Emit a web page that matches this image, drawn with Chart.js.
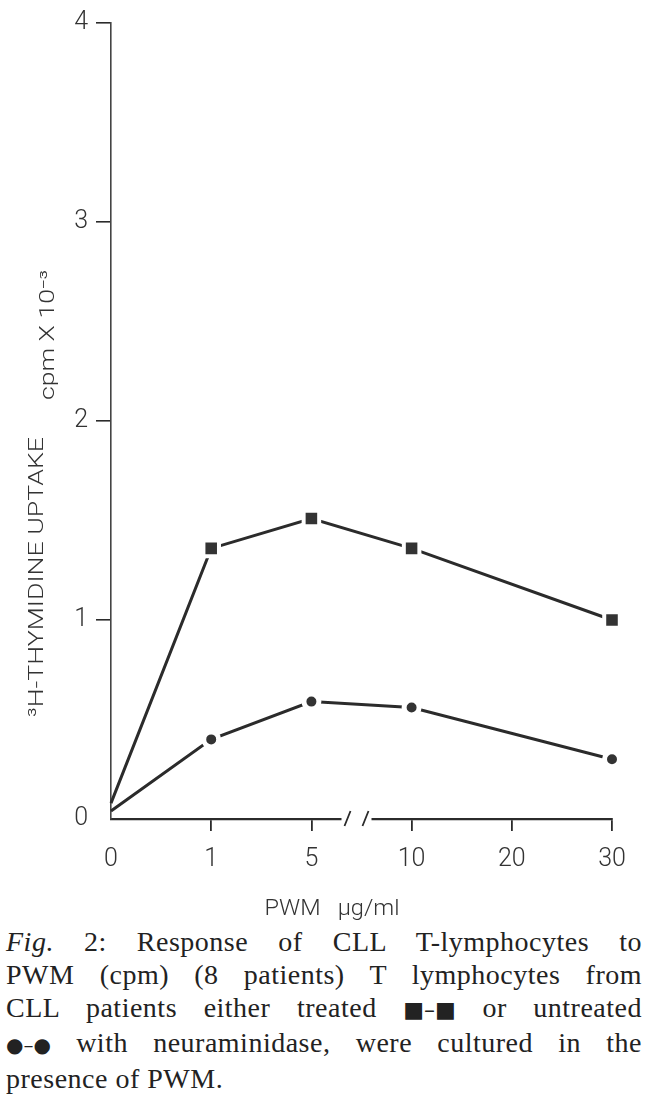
<!DOCTYPE html>
<html>
<head>
<meta charset="utf-8">
<script src="https://cdn.jsdelivr.net/npm/chart.js@4.4.1/dist/chart.umd.min.js"></script>
<style>
  body { margin: 0; background: #fff; width: 650px; height: 1101px; overflow: hidden; }
  #chart { display: block; }
  #caption {
    position: absolute; top: 925px; left: 6px; width: 636px;
    font-family: "Liberation Serif", "Times New Roman", serif;
    font-size: 28px; line-height: 33px; color: #222; letter-spacing: 0.5px;
  }
  #caption div { text-align: justify; text-align-last: justify; }
  #caption div.last { text-align: left; text-align-last: left; }
  #caption .sym { display: inline-block; font-family: "DejaVu Sans", sans-serif; letter-spacing: 0; }
</style>
</head>
<body>
<canvas id="chart" width="650" height="925"></canvas>
<div id="caption">
  <div><i>Fig.</i> 2: Response of CLL T-lymphocytes to</div>
  <div>PWM (cpm) (8 patients) T lymphocytes from</div>
  <div>CLL patients either treated <span class="sym" style="font-size:22px">■–■</span> or untreated</div>
  <div><span class="sym" style="font-size:20px">●–●</span> with neuraminidase, were cultured in the</div>
  <div class="last">presence of PWM.</div>
</div>
<script>
// PWM doses (µg/ml), equally spaced on the axis
const doses = ["0", "1", "5", "10", "20", "30"];
// 3H-thymidine uptake, cpm x 10^-3
const treated   = [0.08, 1.36, 1.51, 1.36, null, 1.00];
const untreated = [0.04, 0.40, 0.59, 0.56, null, 0.30];
const yTicks    = [0, 1, 2, 3, 4];

const ink = "#2b2b2b";
const tickFont = { family: "Roboto, 'Liberation Sans', sans-serif", size: 25, weight: "300" };

// axis titles and the // break on the x axis
const extras = {
  id: "extras",
  afterDraw(chart) {
    const ctx = chart.ctx;
    const x = chart.scales.x, y = chart.scales.y;
    const base = y.getPixelForValue(0);

    // break mark between 5 and 10
    const mid = (x.getPixelForValue(2) + x.getPixelForValue(3)) / 2 - 4;
    ctx.save();
    ctx.fillStyle = "#fff";
    ctx.fillRect(mid - 16, base - 4, 30, 8);
    ctx.strokeStyle = ink;
    ctx.lineWidth = 1.8;
    ctx.beginPath();
    ctx.moveTo(mid - 13, base + 7); ctx.lineTo(mid - 7, base - 8);
    ctx.moveTo(mid + 5, base + 7);  ctx.lineTo(mid + 11, base - 8);
    ctx.stroke();
    ctx.restore();

    const stretchText = (text, cx, cy, len, font, rot) => {
      ctx.save();
      ctx.font = font;
      ctx.fillStyle = "#333";
      ctx.textAlign = "center";
      ctx.textBaseline = "alphabetic";
      ctx.translate(cx, cy);
      ctx.rotate(rot);
      const w = ctx.measureText(text).width;
      ctx.scale(len / w, 1);
      ctx.fillText(text, 0, 0);
      ctx.restore();
    };

    // y title, two parts as in the original
    stretchText("³H-THYMIDINE UPTAKE", 43, 577, 280, "300 21px Roboto, 'Liberation Sans', sans-serif", -Math.PI / 2);
    stretchText("cpm X 10⁻³", 54, 335, 130, "300 20px Roboto, 'Liberation Sans', sans-serif", -Math.PI / 2);

    // x title
    stretchText("PWM   µg/ml", 332, 915, 135, "300 22px Roboto, 'Liberation Sans', sans-serif", 0);
  }
};

new Chart(document.getElementById("chart"), {
  type: "line",
  data: {
    labels: doses,
    datasets: [
      {
        label: "treated",
        data: treated,
        borderColor: ink,
        borderWidth: 3,
        spanGaps: true,
        tension: 0,
        pointStyle: "rect",
        pointRadius: [0, 11, 11, 11, 0, 11],
        pointBackgroundColor: "#333",
        pointBorderColor: "#fff",
        pointBorderWidth: 4
      },
      {
        label: "untreated",
        data: untreated,
        borderColor: ink,
        borderWidth: 3,
        spanGaps: true,
        tension: 0,
        pointStyle: "circle",
        pointRadius: [0, 7.5, 7.5, 7.5, 0, 7.5],
        pointBackgroundColor: "#333",
        pointBorderColor: "#fff",
        pointBorderWidth: 5
      }
    ]
  },
  options: {
    responsive: false,
    animation: false,
    layout: { padding: { top: 18, right: 38, left: 0, bottom: 0 } },
    plugins: { legend: { display: false }, tooltip: { enabled: false } },
    scales: {
      x: {
        type: "category",
        offset: false,
        grid: {
          drawOnChartArea: false,
          tickLength: 12,
          color: ctx => ctx.index === 0 ? "rgba(0,0,0,0)" : ink,
          lineWidth: 1.8
        },
        border: { color: ink, width: 2.2 },
        ticks: { color: "#333", font: tickFont, padding: 14, maxRotation: 0 },
        afterFit: s => { s.height = 106; }
      },
      y: {
        min: 0,
        max: 4,
        afterBuildTicks: s => { s.ticks = yTicks.map(v => ({ value: v })); },
        grid: {
          drawOnChartArea: false,
          tickLength: 15,
          color: ctx => ctx.index === 0 ? "rgba(0,0,0,0)" : ink,
          lineWidth: 1.6
        },
        border: { color: "#444", width: 1.6 },
        ticks: { color: "#333", font: tickFont, padding: 8 },
        afterFit: s => { s.width = 111; }
      }
    }
  },
  plugins: [extras]
});
</script>
</body>
</html>
